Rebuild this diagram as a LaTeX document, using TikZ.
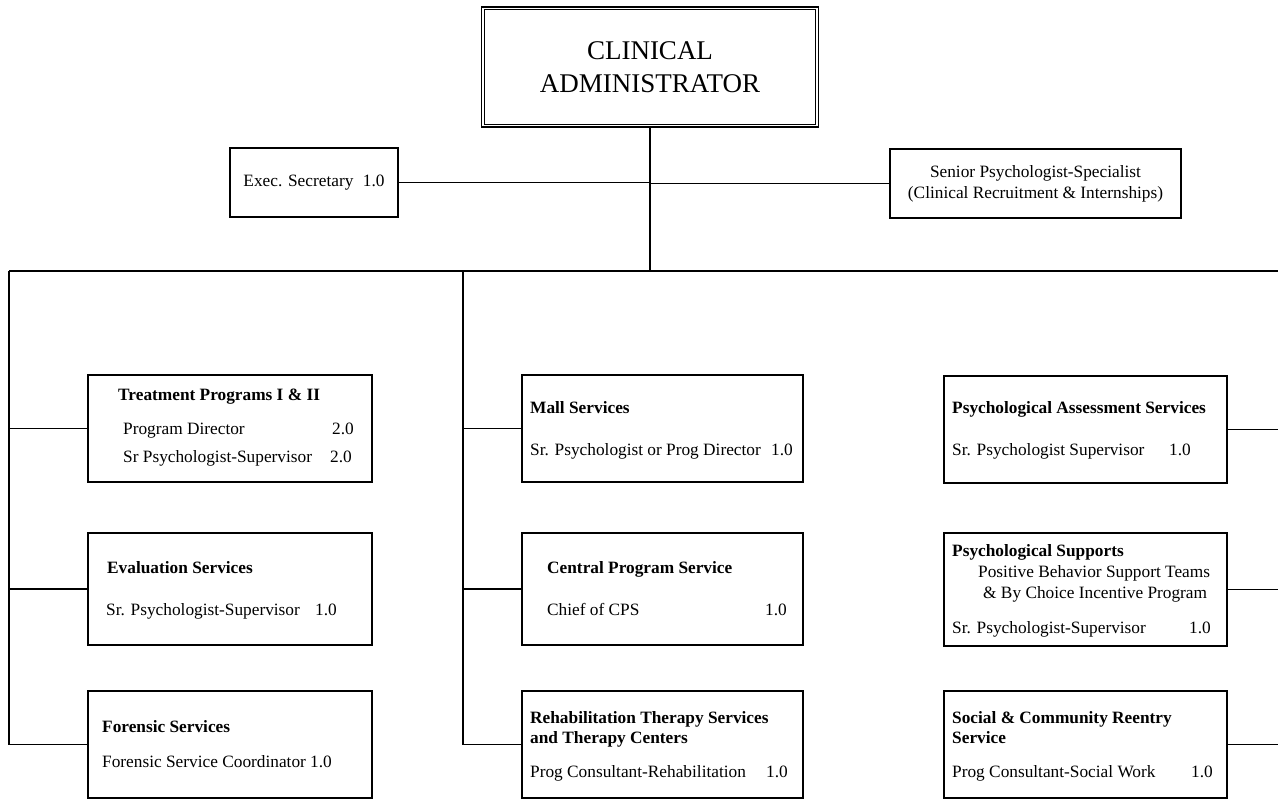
\documentclass[tikz,border=0pt]{standalone}
\usepackage{fontspec}
\setmainfont{Liberation Serif}
\begin{document}
\begin{tikzpicture}[x=1pt,y=-1pt,
  conn/.style={line width=1.3pt},
  box/.style={draw, line width=1.3pt, inner sep=0pt},
  lbl/.style={inner sep=0pt, anchor=base west, font=\fontsize{17.3}{20.5}\selectfont},
  num/.style={inner sep=0pt, anchor=base east, font=\fontsize{17.3}{20.5}\selectfont},
  ttl/.style={inner sep=0pt, anchor=base west, font=\fontsize{17.3}{20.5}\selectfont\bfseries}]
\useasboundingbox (0,0) rectangle (1278,800);

% top
\node[draw, double, double distance=1.8pt, line width=1.1pt, inner sep=0pt,
  minimum width=334pt, minimum height=117pt, align=center,
  font=\fontsize{27}{33}\selectfont] (ca) at (650,67) {CLINICAL\\ADMINISTRATOR};
\node[box, minimum width=168pt, minimum height=69pt, font=\fontsize{17.3}{20.5}\selectfont]
  (exec) at (314,182.5) {Exec. Secretary\hspace{0.55em}1.0};
\node[box, minimum width=291pt, minimum height=69pt, align=center, font=\fontsize{17.3}{21}\selectfont]
  (senior) at (1035.5,183.5) {Senior Psychologist-Specialist\\(Clinical Recruitment \& Internships)};

\coordinate (trunk) at (650,271);
\coordinate (lbus) at (9,271);
\coordinate (mbus) at (463,271);
\coordinate (rbus) at (1278,271);

% boxes
\node[box, minimum width=284pt, minimum height=107pt] (treat) at (230,428.5) {};
\node[box, minimum width=284pt, minimum height=112pt] (eval) at (230,589) {};
\node[box, minimum width=284pt, minimum height=107pt] (foren) at (230,744.5) {};
\node[box, minimum width=281pt, minimum height=107pt] (mall) at (662.5,428.5) {};
\node[box, minimum width=281pt, minimum height=112pt] (cps) at (662.5,589) {};
\node[box, minimum width=281pt, minimum height=107pt] (rehab) at (662.5,744.5) {};
\node[box, minimum width=283pt, minimum height=107pt] (assess) at (1085.5,429.5) {};
\node[box, minimum width=283pt, minimum height=113pt] (supp) at (1085.5,589.5) {};
\node[box, minimum width=283pt, minimum height=107pt] (social) at (1085.5,744.5) {};

% connectors
\draw[conn] (ca.south) -- (trunk);
\draw[conn] (exec.east) -- (exec.east -| trunk);
\draw[conn] (senior.west) -- (senior.west -| trunk);
\draw[conn] (lbus) -- (rbus);
\draw[conn] (lbus) |- (foren.west);
\draw[conn] (treat.west) -- (treat.west -| lbus);
\draw[conn] (eval.west) -- (eval.west -| lbus);
\draw[conn] (mbus) |- (rehab.west);
\draw[conn] (mall.west) -- (mall.west -| mbus);
\draw[conn] (cps.west) -- (cps.west -| mbus);
\draw[conn] (assess.east) -- (assess.east -| rbus);
\draw[conn] (supp.east) -- (supp.east -| rbus);
\draw[conn] (social.east) -- (social.east -| rbus);

% texts left column
\node[ttl] (t1) at (118,400) {Treatment Programs I \& II};
\node[lbl] (t2) at (123,434) {Program Director};
\node[num] (t3) at (354,434) {2.0};
\node[lbl] (t4) at (123,462) {Sr Psychologist-Supervisor};
\node[num] (t5) at (352,462) {2.0};

\node[ttl] (e1) at (107,573) {Evaluation Services};
\node[lbl] (e2) at (106,615) {Sr. Psychologist-Supervisor};
\node[num] (e3) at (337,615) {1.0};

\node[ttl] (f1) at (102,732) {Forensic Services};
\node[lbl] (f2) at (102,767) {Forensic Service Coordinator 1.0};

% middle column
\node[ttl] (m1) at (530,413) {Mall Services};
\node[lbl] (m2) at (530,455) {Sr. Psychologist or Prog Director};
\node[num] (m3) at (793,455) {1.0};

\node[ttl] (c1) at (547,573) {Central Program Service};
\node[lbl] (c2) at (547,615) {Chief of CPS};
\node[num] (c3) at (787,615) {1.0};

\node[ttl] (r1) at (530,723) {Rehabilitation Therapy Services};
\node[ttl] (r2) at (530,743) {and Therapy Centers};
\node[lbl] (r3) at (530,777) {Prog Consultant-Rehabilitation};
\node[num] (r4) at (788,777) {1.0};

% right column
\node[ttl] (a1) at (952,413) {Psychological Assessment Services};
\node[lbl] (a2) at (952,455) {Sr. Psychologist Supervisor};
\node[num] (a3) at (1191,455) {1.0};

\node[ttl] (s1) at (952,556) {Psychological Supports};
\node[lbl] (s2) at (978,577) {Positive Behavior Support Teams};
\node[lbl] (s3) at (983,598) {\& By Choice Incentive Program};
\node[lbl] (s4) at (952,633) {Sr. Psychologist-Supervisor};
\node[num] (s5) at (1211,633) {1.0};

\node[ttl] (o1) at (952,723) {Social \& Community Reentry};
\node[ttl] (o2) at (952,743) {Service};
\node[lbl] (o3) at (952,777) {Prog Consultant-Social Work};
\node[num] (o4) at (1213,777) {1.0};
\end{tikzpicture}
\end{document}
